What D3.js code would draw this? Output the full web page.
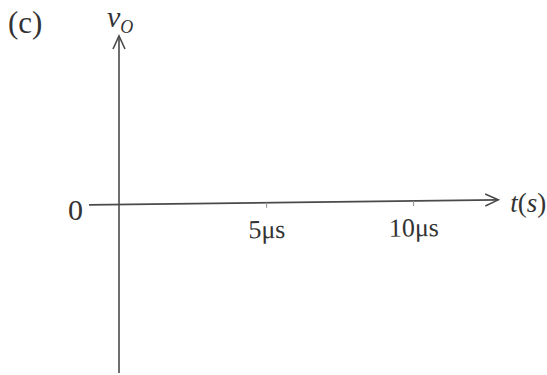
<!DOCTYPE html>
<html>
<head>
<meta charset="utf-8">
<script src="https://cdn.jsdelivr.net/npm/d3@7/dist/d3.min.js"></script>
<style>
  html, body { margin: 0; padding: 0; background: #fff; }
  svg text { font-family: "Liberation Serif", "Times New Roman", serif; fill: #333; }
</style>
</head>
<body>
<svg id="chart" width="547" height="375"></svg>
<script>
// Time axis ticks (microseconds) and their labels
const timeTicks = [5, 10];
const timeTickLabels = ["5μs", "10μs"];
// Vertical axis: only the zero level is marked
const levelTicks = [0];
const levelTickLabels = ["0"];
// Axis extents in data units
const timeExtent = [0, 12.9];
const levelExtent = [-1, 1];

const svg = d3.select("#chart");
const ink = "#4a4a4a";
const serif = "Liberation Serif, Times New Roman, serif";

const x = d3.scaleLinear().domain([0, 5]).range([119, 266]);
const y = d3.scaleLinear().domain(levelExtent).range([373, 36]);

const x0 = x(0), y0 = y(0);
const tx = x(timeExtent[1]);

// Horizontal time axis: hand-drawn, so it leans up a little to the right
const gTime = svg.append("g")
  .attr("transform", `rotate(-0.7, ${x0}, ${y0})`);

gTime.append("line")
  .attr("x1", x0 - 30).attr("y1", y0)
  .attr("x2", tx).attr("y2", y0)
  .attr("stroke", ink).attr("stroke-width", 1.6);

// Open arrow head on the time axis
gTime.append("path")
  .attr("d", `M${tx - 13},${y0 - 6} L${tx},${y0} L${tx - 13},${y0 + 6}`)
  .attr("fill", "none").attr("stroke", ink).attr("stroke-width", 1.6);

// Time ticks through the library's axis generator
const xAxis = d3.axisBottom(x)
  .tickValues(timeTicks)
  .tickFormat((d, i) => timeTickLabels[i])
  .tickSize(5)
  .tickPadding(12);
const gx = gTime.append("g").attr("transform", `translate(0,${y0})`).call(xAxis);
gx.select(".domain").remove();
gx.selectAll(".tick line").attr("stroke", "#999").attr("stroke-width", 1.2);
gx.selectAll(".tick text")
  .attr("font-family", serif)
  .style("font-size", "26px")
  .attr("fill", "#333");

// Vertical v_O axis
svg.append("line")
  .attr("x1", x0).attr("y1", y(levelExtent[0]))
  .attr("x2", x0).attr("y2", y(levelExtent[1]))
  .attr("stroke", ink).attr("stroke-width", 1.6);
const ty = y(levelExtent[1]);
svg.append("path")
  .attr("d", `M${x0 - 6},${ty + 13} L${x0},${ty} L${x0 + 6},${ty + 13}`)
  .attr("fill", "none").attr("stroke", ink).attr("stroke-width", 1.6);

// Zero level label
svg.selectAll("text.level")
  .data(levelTicks)
  .join("text")
  .attr("class", "level")
  .attr("x", x0 - 36)
  .attr("y", d => y(d) + 15)
  .attr("text-anchor", "end")
  .attr("font-size", 30)
  .text((d, i) => levelTickLabels[i]);

// Axis titles
const tLabel = svg.append("text")
  .attr("x", tx + 12).attr("y", 212)
  .attr("font-size", 27);
tLabel.append("tspan").attr("font-style", "italic").text("t");
tLabel.append("tspan").text("(");
tLabel.append("tspan").attr("font-style", "italic").text("s");
tLabel.append("tspan").text(")");

const vLabel = svg.append("text")
  .attr("x", x0 - 12).attr("y", 27)
  .attr("font-size", 30)
  .attr("font-style", "italic");
vLabel.append("tspan").text("v");
vLabel.append("tspan").attr("dy", 6).attr("font-size", 18).text("O");

// Panel tag
svg.append("text")
  .attr("x", 8).attr("y", 33)
  .attr("font-size", 31)
  .text("(c)");
</script>
</body>
</html>
